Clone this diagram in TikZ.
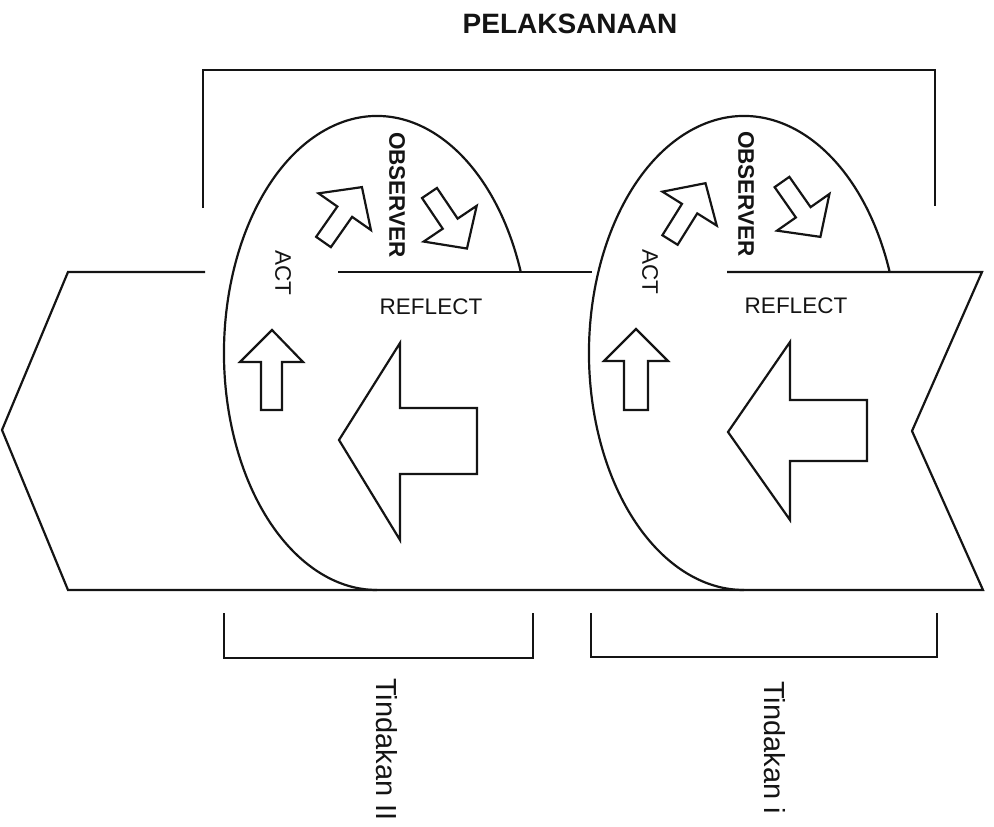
\documentclass[tikz,border=0pt]{standalone}
\usepackage{fontspec}
\setmainfont{Liberation Sans}
\definecolor{ink}{HTML}{141414}
\begin{document}
\begin{tikzpicture}[x=1pt,y=1pt,
  outline/.style={draw=ink, line width=2.2pt, line join=miter, line cap=butt},
  blockarrow/.style={draw=ink, line width=2.2pt, fill=white, line join=miter},
  lbl/.style={text=ink, inner sep=0pt, font=\fontsize{22.5}{27}\selectfont},
  vlbl/.style={lbl, rotate=-90},
  diagarrow/.pic={\draw[blockarrow] (0,-9) -- (37,-9) -- (37,-32) -- (67,0) -- (37,32) -- (37,9) -- (0,9) -- cycle;}
]
\useasboundingbox (0,0) rectangle (994,-827);

% title and top bracket
\node[lbl, font=\fontsize{28}{32}\selectfont\bfseries] (title) at (570,-24) {PELAKSANAAN};
\coordinate (tl) at (203,-208);
\coordinate (tr) at (935,-206);
\draw[outline] (tl) -- (203,-70) -- (935,-70) -- (tr);

% reflect band: chevron tail on the left, notch on the right
\coordinate (bandL) at (2,-430);
\coordinate (bandR) at (912,-431);
\draw[outline] (205,-272) -- (68,-272) -- (bandL) -- (68,-590) -- (983,-590) -- (bandR) -- (982,-272) -- (727,-272);
\draw[outline] (338,-272) -- (592,-272);

% the two cycles
\coordinate (e1) at (377,-353);
\coordinate (e2) at (744,-353);
\draw[outline] (e1) ++(20:153 and 237) arc[start angle=20, end angle=270, x radius=153, y radius=237];
\draw[outline] (e2) ++(20:155 and 237) arc[start angle=20, end angle=270, x radius=155, y radius=237];

% observe arrows
\pic[rotate=55] at (323.5,-242) {diagarrow};
\pic[rotate=-56] at (429.5,-193) {diagarrow};
\pic[rotate=58] at (670,-240) {diagarrow};
\pic[rotate=-55] at (782,-182) {diagarrow};

% act arrows
\draw[blockarrow] (261,-410) -- (261,-362) -- (240,-362) -- (272,-330) -- (303,-362) -- (282,-362) -- (282,-410) -- cycle;
\draw[blockarrow] (624,-410) -- (624,-361) -- (604,-361) -- (636,-329) -- (668,-361) -- (648,-361) -- (648,-410) -- cycle;

% reflect arrows
\draw[blockarrow] (477,-408) -- (400,-408) -- (400,-343) -- (339,-440) -- (400,-540) -- (400,-474) -- (477,-474) -- cycle;
\draw[blockarrow] (867,-400) -- (790,-400) -- (790,-342) -- (728,-432) -- (790,-520) -- (790,-461) -- (867,-461) -- cycle;

% labels inside the cycles
\node[vlbl, font=\fontsize{22.5}{27}\selectfont\bfseries] (obs1) at (397,-195) {OBSERVER};
\node[vlbl, font=\fontsize{22.5}{27}\selectfont\bfseries] (obs2) at (746,-194) {OBSERVER};
\node[vlbl] (act1) at (283,-273) {ACT};
\node[vlbl] (act2) at (650,-272) {ACT};
\node[lbl] (ref1) at (431,-307) {REFLECT};
\node[lbl] (ref2) at (796,-306) {REFLECT};

% lower brackets
\draw[outline] (224,-613) -- (224,-658) -- (533,-658) -- (533,-613);
\draw[outline] (591,-613) -- (591,-657) -- (937,-657) -- (937,-613);
\node[vlbl, font=\fontsize{29}{33}\selectfont] (t2) at (387,-749.5) {Tindakan II};
\node[vlbl, font=\fontsize{29}{33}\selectfont] (t1) at (775,-747.5) {Tindakan i};
\end{tikzpicture}
\end{document}
